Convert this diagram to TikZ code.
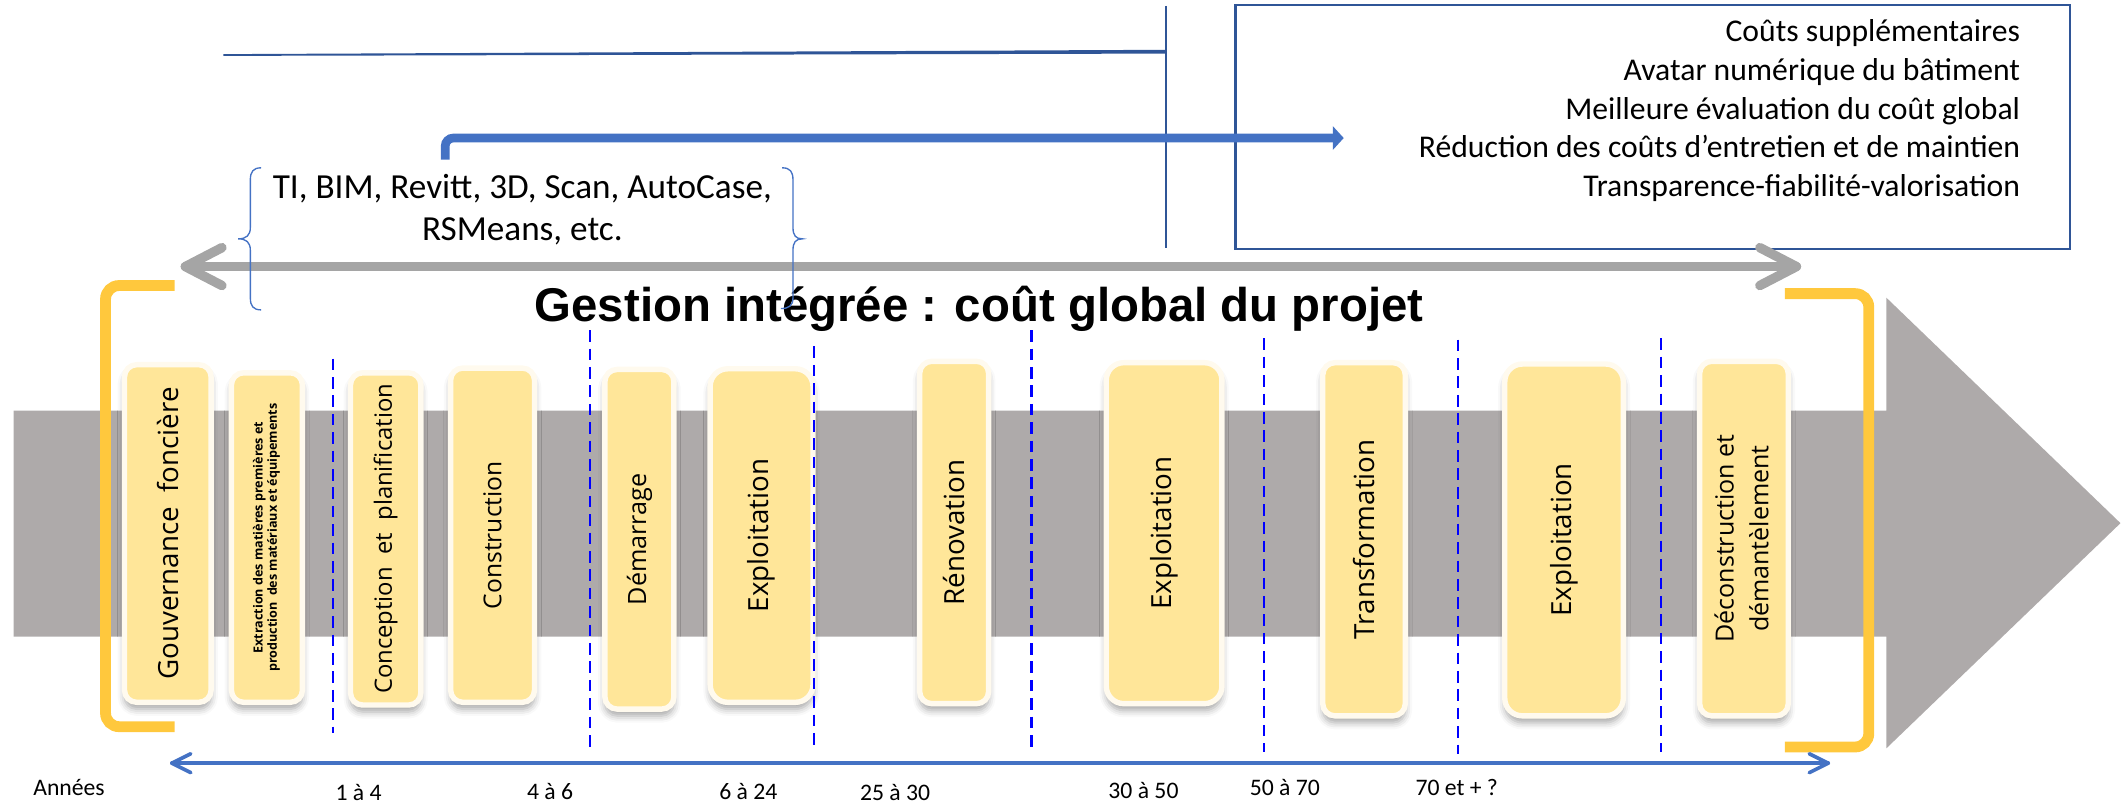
\documentclass[tikz,border=0pt]{standalone}
\usepackage{fontspec}
\setmainfont{Carlito}
\newfontfamily\boxfont{Open Sans}
\newfontfamily\titlefont{Liberation Sans}
\usetikzlibrary{arrows.meta,shadows.blur}
\definecolor{bandgray}{HTML}{AEAAAA}
\definecolor{arrgray}{HTML}{A5A5A5}
\definecolor{accblue}{HTML}{4472C4}
\definecolor{darkblue}{HTML}{2F5597}
\definecolor{boxyellow}{HTML}{FFE699}
\definecolor{boxrim}{HTML}{FFFAEE}
\definecolor{bracketyellow}{HTML}{FFC83D}
\definecolor{dashblue}{HTML}{0000FF}
\begin{document}
\begin{tikzpicture}[x=1pt,y=-1pt,
  phase/.style={rounded corners=9pt, fill=boxyellow, draw=boxrim, line width=4pt, inner sep=0pt,
    font=\boxfont,
    blur shadow={shadow xshift=0pt, shadow yshift=-5pt, shadow blur radius=5pt, shadow opacity=35}},
  wide/.style={rounded corners=13pt},
  yr/.style={font=\fontsize{17.5}{20}\selectfont, inner sep=0pt},
  grayarr/.style={draw=arrgray, line width=7pt, line cap=round, line join=round},
  thinarr/.style={draw=accblue, line width=2.7pt, line cap=round, line join=round},
  dashv/.style={draw=dashblue, line width=2pt, dash pattern=on 8.6pt off 5pt},
  yelbracket/.style={draw=bracketyellow, line width=8pt, rounded corners=10pt},
  bracestyle/.style={draw=accblue, line width=1pt}]
\useasboundingbox (0,0) rectangle (1567.4,594.9);

% big gray arrow
\fill[bandgray] (10,303.5) -- (1394,303.5) -- (1394,220) -- (1567,386.6) -- (1394,553)
  -- (1394,470.5) -- (10,470.5) -- cycle;

% yellow brackets
\draw[yelbracket] (129,211) -- (78,211) -- (78,537) -- (129,537);
\draw[yelbracket] (1319,217) -- (1381,217) -- (1381,552) -- (1319,552);

% phase boxes
\node[phase, minimum width=64pt, minimum height=249.5pt] (g1) at (124,394.25)
  {\rotatebox{90}{\fontsize{20.5}{24}\selectfont Gouvernance\ \ foncière}};
\node[phase, minimum width=52.5pt, minimum height=243.5pt] (ex) at (197.25,397.25)
  {\rotatebox{90}{\fontsize{9.3}{10.6}\selectfont\bfseries\begin{tabular}{@{}c@{}}Extraction des matières premières et\\production\ \ des matériaux et équipements\end{tabular}}};
\node[phase, minimum width=52pt, minimum height=245.5pt] (co) at (285,398.25)
  {\rotatebox{90}{\fontsize{17.6}{20}\selectfont Conception\ \ et\ \ planification}};
\node[phase, minimum width=62pt, minimum height=247pt] (cs) at (364,395.5)
  {\rotatebox{90}{\fontsize{18.2}{21}\selectfont Construction}};
\node[phase, minimum width=51pt, minimum height=251pt] (de) at (472.5,398.5)
  {\rotatebox{90}{\fontsize{18.6}{21}\selectfont Démarrage}};
\node[phase, wide, minimum width=76pt, minimum height=246.5pt] (e1) at (562.8,395.75)
  {\rotatebox{90}{\fontsize{20.5}{24}\selectfont Exploitation}};
\node[phase, minimum width=51pt, minimum height=253pt] (re) at (705.1,393.5)
  {\rotatebox{90}{\fontsize{20.5}{24}\selectfont Rénovation}};
\node[phase, wide, minimum width=85.5pt, minimum height=252pt] (e2) at (860.25,394)
  {\rotatebox{90}{\fontsize{20.5}{24}\selectfont Exploitation}};
\node[phase, minimum width=61pt, minimum height=261pt] (tr) at (1008,398.5)
  {\rotatebox{90}{\fontsize{20.5}{24}\selectfont Transformation}};
\node[phase, wide, minimum width=87.6pt, minimum height=260pt] (e3) at (1155.8,399)
  {\rotatebox{90}{\fontsize{20.5}{24}\selectfont Exploitation}};
\node[phase, minimum width=65.5pt, minimum height=262pt] (dc) at (1288.75,398)
  {\rotatebox{90}{\fontsize{18.5}{25.7}\selectfont\begin{tabular}{@{}c@{}}Déconstruction et\\démantèlement\end{tabular}}};

% dashed separators
\foreach \x/\t/\b in {246/265/541.5, 436/244/553, 601.6/256/553, 762/244/553,
                      934/250/555.6, 1077.5/251/557, 1227.5/250/555.6}
  \draw[dashv] (\x,\t) -- (\x,\b);

% top lines and frame
\coordinate (tlA) at (165,40.5);
\coordinate (tlB) at (862,38);
\coordinate (vT) at (862,4.4);
\coordinate (vB) at (862,183);
\fill[darkblue] (165,40) -- (862,36.8) -- (862,39.6) -- (165,41.3) -- cycle;
\draw[darkblue, line width=1.5pt] (vT) -- (vB);
\node[draw=darkblue, line width=1.5pt, minimum width=617pt, minimum height=180pt, inner sep=0pt] (frame) at (1221.5,93.65) {};
\node[anchor=east, align=right, font=\fontsize{23.4}{28.6}\selectfont, inner sep=0pt] (gains) at (1493,81.8)
  {Coûts supplémentaires\\Avatar numérique du bâtiment\\Meilleure évaluation du coût global\\Réduction des coûts d’entretien et de maintien\\Transparence-fiabilité-valorisation};

% blue thick arrow
\coordinate (bs) at (329,118);
\coordinate (be) at (993,102);
\draw[accblue, line width=6.4pt, rounded corners=6pt, -{Triangle[length=8pt,width=17pt]}] (bs) |- (be);

% tools text
\node[align=center, font=\fontsize{26}{31.6}\selectfont, inner sep=0pt] (tools) at (386,155)
  {TI, BIM, Revitt, 3D, Scan, AutoCase,\\RSMeans, etc.};

% gray double arrow
\coordinate (gL) at (137,197);
\coordinate (gR) at (1327.5,197);
\draw[grayarr] (gL) -- (gR);
\draw[grayarr] ([shift={(27,-14)}]gL) -- (gL) -- ([shift={(27,14)}]gL);
\draw[grayarr] ([shift={(-27,-14)}]gR) -- (gR) -- ([shift={(-27,14)}]gR);

% title
\node[font=\titlefont\bfseries\fontsize{35}{40}\selectfont, anchor=base, inner sep=0pt] (title) at (723.5,237.7)
  {Gestion intégrée : coût global du projet};

% braces
\draw[bracestyle] (193,124) .. controls (187,124) and (185,127) .. (185,133) -- (185,168)
  .. controls (185,174) and (182,176.5) .. (176,176.5)
  .. controls (182,176.5) and (185,179) .. (185,185) -- (185,220)
  .. controls (185,226) and (187,229) .. (193,229);
\draw[bracestyle] (578,124) .. controls (584,124) and (586,127) .. (586,133) -- (586,168)
  .. controls (586,174) and (588,176.5) .. (593,176.5)
  .. controls (588,176.5) and (586,179) .. (586,185) -- (586,220)
  .. controls (586,226) and (583,228) .. (577,228);

% bottom years arrow
\coordinate (bL) at (127,564);
\coordinate (bR) at (1351,564);
\draw[thinarr] (bL) -- (bR);
\draw[thinarr] ([shift={(14,-7)}]bL) -- (bL) -- ([shift={(14,7)}]bL);
\draw[thinarr] ([shift={(-14,-7)}]bR) -- (bR) -- ([shift={(-14,7)}]bR);

% year labels
\node[yr] (y0) at (51,582) {Années};
\node[yr] (y1) at (265,585.5) {1 à 4};
\node[yr] (y2) at (406.5,584.6) {4 à 6};
\node[yr] (y3) at (553,584.6) {6 à 24};
\node[yr] (y4) at (661.5,586) {25 à 30};
\node[yr] (y5) at (845,584) {30 à 50};
\node[yr] (y6) at (949.5,582) {50 à 70};
\node[yr] (y7) at (1076.5,582) {70 et + ?};
\end{tikzpicture}
\end{document}
